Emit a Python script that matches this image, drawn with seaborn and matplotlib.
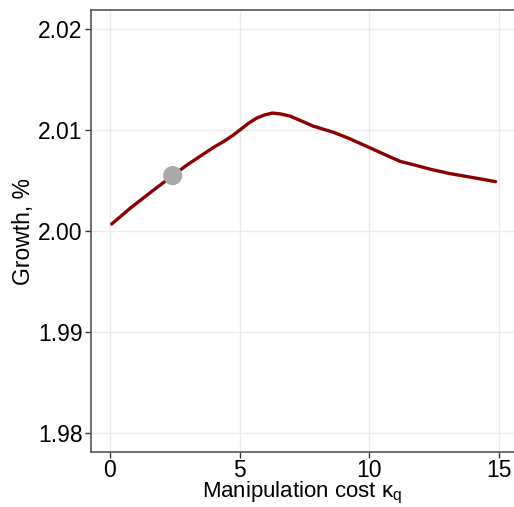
import numpy as np
import pandas as pd
import matplotlib
matplotlib.use("Agg")
import matplotlib.pyplot as plt
import seaborn as sns

# values
cost = [0.07, 0.8, 1.6, 2.42, 3.0, 3.47, 4.0, 4.4, 4.75, 5.05, 5.35, 5.66, 5.95, 6.27,
        6.6, 6.94, 7.4, 7.84, 8.61, 9.2, 9.9, 10.67, 11.2, 11.82, 12.4, 13.1, 14.0, 14.87]
growth = [2.0007, 2.0023, 2.0039, 2.0055, 2.0066, 2.0074, 2.0083, 2.0089, 2.0095,
          2.0101, 2.0107, 2.0112, 2.0115, 2.0117, 2.0116, 2.0114, 2.0109, 2.0104,
          2.0098, 2.0092, 2.0084, 2.0075, 2.0069, 2.0065, 2.0061, 2.0057, 2.0053, 2.0049]
dot_cost = [2.42]
dot_growth = [2.0055]

x_ticks = [0, 5, 10, 15]
y_ticks = [1.98, 1.99, 2.00, 2.01, 2.02]

sns.set_theme(style="whitegrid")
plt.rcParams["font.family"] = ["Liberation Sans", "DejaVu Sans"]
plt.rcParams["mathtext.fontset"] = "custom"
plt.rcParams["mathtext.rm"] = "Liberation Sans"
plt.rcParams["mathtext.it"] = "Liberation Sans:italic"

df = pd.DataFrame({"cost": cost, "growth": growth})
dot = pd.DataFrame({"cost": dot_cost, "growth": dot_growth})

fig = plt.figure(figsize=(5.14, 5.07), dpi=100)
ax = fig.add_axes([0.177, 0.1085, 0.823, 0.8715])

sns.lineplot(data=df, x="cost", y="growth", color="#8B0000", linewidth=2.4, ax=ax)
sns.scatterplot(data=dot, x="cost", y="growth", color="#A9A9A9", s=190,
                edgecolor="none", zorder=5, ax=ax)

ax.set_xlim(-0.73, 15.58)
ax.set_ylim(1.9781, 2.0219)
ax.set_xticks(x_ticks)
ax.set_yticks(y_ticks)
ax.set_xticklabels([str(v) for v in x_ticks])
ax.set_yticklabels([f"{v:.2f}" for v in y_ticks])

ax.grid(True, color="#EBEBEB", linewidth=1)
for side in ["left", "bottom", "top"]:
    ax.spines[side].set_color("#555555")
    ax.spines[side].set_linewidth(1.2)
ax.spines["right"].set_visible(False)

ax.tick_params(axis="both", which="major", labelsize=16.5, colors="#333333",
               length=4, width=1, direction="out", left=True, bottom=True, pad=2)
ax.tick_params(axis="x", pad=1)
for lbl in ax.get_xticklabels() + ax.get_yticklabels():
    lbl.set_color("black")

ax.set_xlabel("Manipulation cost \u03ba$_\\mathrm{q}$", fontsize=16, color="black", labelpad=-1.5)
ax.set_ylabel("Growth, %", fontsize=16.5, color="black", labelpad=2)

fig.savefig("out.png", dpi=100)
